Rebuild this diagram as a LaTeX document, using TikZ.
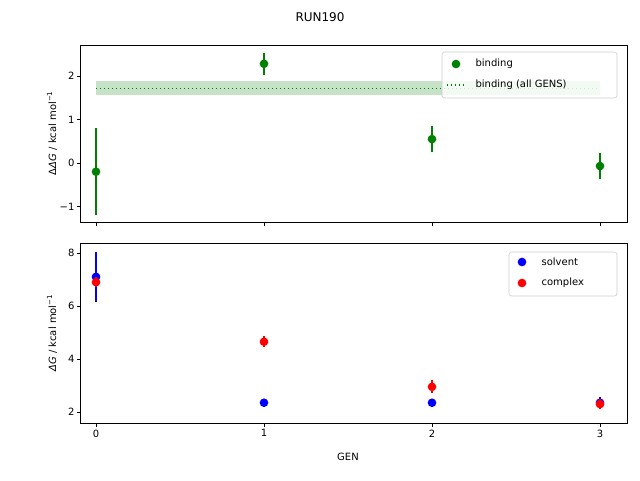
\documentclass[tikz,border=0pt]{standalone}
\usepackage{fontspec}
\setmainfont{DejaVu Sans}
\usetikzlibrary{positioning}
\newcommand{\tx}[1]{96+168*(#1)}
\newcommand{\ty}[1]{163-43.5*(#1)}
\newcommand{\by}[1]{465-26.5*(#1)}
\definecolor{mgreen}{RGB}{0,128,0}
\tikzset{
axesbox/.style={draw, line width=0.6pt},
tick/.style={line width=0.6pt},
ticklabel/.style={font=\fontsize{7.5}{9}\selectfont, inner sep=1pt},
dot/.style={circle, fill=#1, inner sep=0pt, minimum size=6.5pt},
errbar/.style={draw=#1, line width=1.1pt},
}
\begin{document}
\begin{tikzpicture}[x=0.75pt, y=-0.75pt]
    \useasboundingbox (0,0) rectangle (640,480);
    \node[font=\fontsize{9}{11}\selectfont] (title) at (320,17) {RUN190};

    %top axes
    \fill[mgreen!22] ({\tx{0}},{\ty{1.88}}) rectangle ({\tx{3}},{\ty{1.56}});
    \draw[mgreen, dotted, line width=1pt] ({\tx{0}},{\ty{1.72}}) -- ({\tx{3}},{\ty{1.72}});
    \foreach \g/\v/\e in {0/-0.2/1.0, 1/2.28/0.25, 2/0.55/0.3, 3/-0.07/0.3}{
        \draw[errbar=mgreen] ({\tx{\g}},{\ty{\v-\e}}) -- ({\tx{\g}},{\ty{\v+\e}});
        \node[dot=mgreen] (b\g) at ({\tx{\g}},{\ty{\v}}) {};
    }
    \draw[axesbox] (80,45) rectangle (627,222);
    \foreach \v/\t in {-1/−1,0/0,1/1,2/2}{
        \draw[tick] (80,{\ty{\v}}) -- ++(-3.5,0);
        \node[ticklabel, left] at (76,{\ty{\v}}) {\t};
    }
    \foreach \g in {0,...,3}
        \draw[tick] ({\tx{\g}},222) -- ++(0,3.5);
    \node[rotate=90, ticklabel] (ylabtop) at (52,133) {Δ\textit{ΔG} / kcal mol\textsuperscript{−1}};

    %top legend
    \draw[black!20, fill=white, fill opacity=0.8, rounded corners=2pt] (442,52) rectangle (617,98);
    \node[dot=mgreen] (lgbind) at (456,64) {};
    \node[ticklabel, anchor=west] (lgbindt) at (474,64) {binding};
    \draw[mgreen, dotted, line width=1pt] (447,85) -- (467,85);
    \node[ticklabel, anchor=west] (lgall) at (474,85) {binding (all GENS)};

    %bottom axes
    \foreach \g/\v/\e in {0/7.1/0.95, 1/2.35/0.05, 2/2.35/0.05, 3/2.35/0.2}{
        \draw[errbar=blue] ({\tx{\g}},{\by{\v-\e}}) -- ({\tx{\g}},{\by{\v+\e}});
        \node[dot=blue] (s\g) at ({\tx{\g}},{\by{\v}}) {};
    }
    \foreach \g/\v/\e in {0/6.9/0.2, 1/4.65/0.2, 2/2.95/0.25, 3/2.3/0.2}{
        \draw[errbar=red] ({\tx{\g}},{\by{\v-\e}}) -- ({\tx{\g}},{\by{\v+\e}});
        \node[dot=red] (c\g) at ({\tx{\g}},{\by{\v}}) {};
    }
    \draw[axesbox] (80,243) rectangle (627,423);
    \foreach \v in {2,4,6,8}{
        \draw[tick] (80,{\by{\v}}) -- ++(-3.5,0);
        \node[ticklabel, left] at (76,{\by{\v}}) {\v};
    }
    \foreach \g in {0,...,3}{
        \draw[tick] ({\tx{\g}},423) -- ++(0,3.5);
        \node[ticklabel, below] at ({\tx{\g}},428) {\g};
    }
    \node[ticklabel] (xlab) at (348,457) {GEN};
    \node[rotate=90, ticklabel] (ylabbot) at (52,333) {\textit{ΔG} / kcal mol\textsuperscript{−1}};

    %bottom legend
    \draw[black!20, fill=white, fill opacity=0.8, rounded corners=2pt] (509,252) rectangle (617,296);
    \node[dot=blue] (lgsol) at (522,262) {};
    \node[ticklabel, anchor=west] (lgsolt) at (540,262) {solvent};
    \node[dot=red] (lgcom) at (522,283) {};
    \node[ticklabel, anchor=west] (lgcomt) at (540,283) {complex};
\end{tikzpicture}
\end{document}
